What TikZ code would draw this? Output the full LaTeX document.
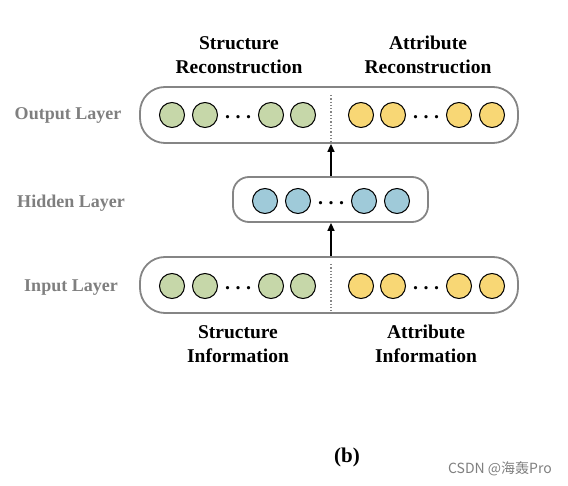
\documentclass[tikz,border=0pt]{standalone}
\usepackage{fontspec}
\setmainfont{Liberation Serif}
\newfontfamily\cjkfont{Noto Sans CJK SC}
\usetikzlibrary{arrows.meta}
\definecolor{gfill}{HTML}{C6D7A9}
\definecolor{yfill}{HTML}{F8D775}
\definecolor{bfill}{HTML}{9FCAD9}
\definecolor{boxgray}{HTML}{858585}
\definecolor{lblgray}{HTML}{7F7F7F}
\newcommand{\mydots}{.\hspace{5.5pt}.\hspace{5.5pt}.}
\tikzset{
  layerbox/.style={draw=boxgray, line width=1.8pt, rounded corners=25pt, inner sep=0pt},
  unit/.style={circle, draw=black, line width=1pt, minimum size=25pt, inner sep=0pt},
  gunit/.style={unit, fill=gfill},
  yunit/.style={unit, fill=yfill},
  bunit/.style={unit, fill=bfill},
  dots/.style={font=\fontsize{20}{20}\selectfont\bfseries, inner sep=0pt},
  layerlbl/.style={font=\fontsize{18}{20}\selectfont\bfseries, text=lblgray},
  caption/.style={font=\fontsize{19.5}{24}\selectfont\bfseries, align=center},
  uparrow/.style={-{Triangle[length=8pt,width=7pt]}, line width=1.6pt},
  divider/.style={draw=boxgray, line width=1.3pt, dotted},
}
\begin{document}
\begin{tikzpicture}[x=1pt,y=-1pt]
\useasboundingbox (0,0) rectangle (568,486);
% boxes
\node[layerbox, minimum width=378pt, minimum height=56pt] (outbox) at (329,115) {};
\node[layerbox, minimum width=195pt, minimum height=45pt, rounded corners=16pt] (hidbox) at (330.5,199.5) {};
\node[layerbox, minimum width=378pt, minimum height=56pt] (inbox) at (329,285) {};
% output units
\node[gunit] (o1) at (172,115) {};
\node[gunit] (o2) at (205,115) {};
\node[dots] (od1) at (238,117.5) {\mydots};
\node[gunit] (o3) at (271,115) {};
\node[gunit] (o4) at (303,115) {};
\node[yunit] (o5) at (361,115) {};
\node[yunit] (o6) at (393,115) {};
\node[dots] (od2) at (426,117.5) {\mydots};
\node[yunit] (o7) at (459,115) {};
\node[yunit] (o8) at (492,115) {};
% hidden units
\node[bunit] (h1) at (265,201) {};
\node[bunit] (h2) at (298,201) {};
\node[dots] (hd) at (331,203) {\mydots};
\node[bunit] (h3) at (364,201) {};
\node[bunit] (h4) at (397,201) {};
% input units
\node[gunit] (i1) at (172,286) {};
\node[gunit] (i2) at (205,286) {};
\node[dots] (id1) at (238,288) {\mydots};
\node[gunit] (i3) at (271,286) {};
\node[gunit] (i4) at (303,286) {};
\node[yunit] (i5) at (361,286) {};
\node[yunit] (i6) at (393,286) {};
\node[dots] (id2) at (426,288) {\mydots};
\node[yunit] (i7) at (459,286) {};
\node[yunit] (i8) at (492,286) {};
% dividers
\coordinate (odt) at (331,95);
\coordinate (idt) at (331,264);
\draw[divider] (odt) -- (odt |- outbox.south);
\draw[divider] (idt) -- (idt |- inbox.south);
% arrows
\draw[uparrow] (inbox.north -| idt) -- (hidbox.south -| idt);
\draw[uparrow] (hidbox.north -| idt) -- (outbox.south -| idt);
% layer labels
\node[layerlbl] (lo) at (68,115) {Output Layer};
\node[layerlbl] (lh) at (71,203) {Hidden Layer};
\node[layerlbl] (li) at (71,288) {Input Layer};
% captions
\node[caption] (sr) at (239,55) {Structure\\Reconstruction};
\node[caption] (ar) at (428,55) {Attribute\\Reconstruction};
\node[caption] (si) at (238,344) {Structure\\Information};
\node[caption] (ai) at (426,344) {Attribute\\Information};
\node[caption, font=\fontsize{21}{24}\selectfont\bfseries] (b) at (347,457) {(b)};
\node[font=\cjkfont\fontsize{14}{16}\selectfont, text=lblgray] (wm) at (500,469) {CSDN @海轰Pro};
\end{tikzpicture}
\end{document}
